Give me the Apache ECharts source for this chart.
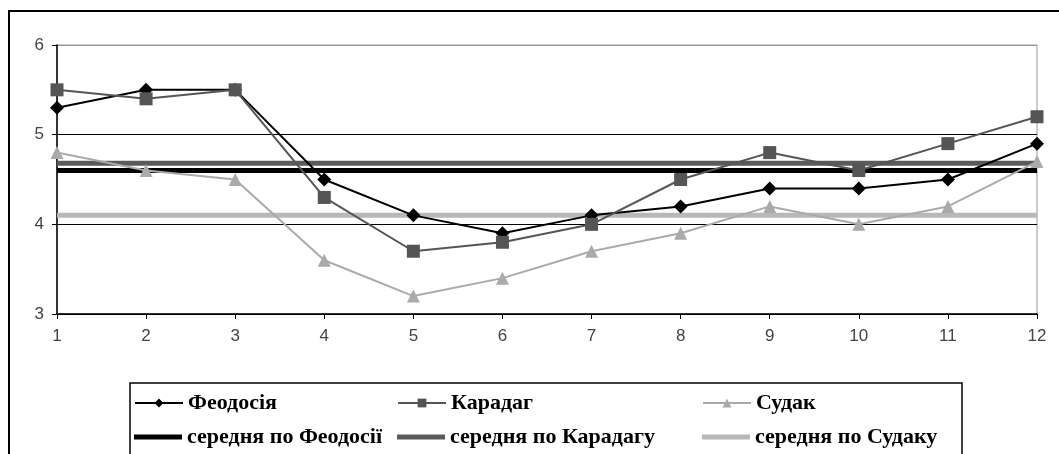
<!DOCTYPE html>
<html>
<head>
<meta charset="utf-8">
<style>
  html, body { margin: 0; padding: 0; background: #fff; }
  #chart { width: 1059px; height: 454px; filter: blur(0.4px); }
</style>
<script src="https://cdn.jsdelivr.net/npm/echarts@6/dist/echarts.min.js"></script>
</head>
<body>
<div id="chart"></div>
<script>
// Months 1..12
const months = ['1', '2', '3', '4', '5', '6', '7', '8', '9', '10', '11', '12'];

// Monthly values per station
const feodosia = [5.3, 5.5, 5.5, 4.5, 4.1, 3.9, 4.1, 4.2, 4.4, 4.4, 4.5, 4.9];
const karadag  = [5.5, 5.4, 5.5, 4.3, 3.7, 3.8, 4.0, 4.5, 4.8, 4.6, 4.9, 5.2];
const sudak    = [4.8, 4.6, 4.5, 3.6, 3.2, 3.4, 3.7, 3.9, 4.2, 4.0, 4.2, 4.7];

// Annual mean levels, drawn as flat lines
const avgFeodosia = [4.6, 4.6, 4.6, 4.6, 4.6, 4.6, 4.6, 4.6, 4.6, 4.6, 4.6, 4.6];
const avgKaradag  = [4.68, 4.68, 4.68, 4.68, 4.68, 4.68, 4.68, 4.68, 4.68, 4.68, 4.68, 4.68];
const avgSudak    = [4.1, 4.1, 4.1, 4.1, 4.1, 4.1, 4.1, 4.1, 4.1, 4.1, 4.1, 4.1];

const names = ['Феодосія', 'Карадаг', 'Судак',
               'середня по Феодосії', 'середня по Карадагу', 'середня по Судаку'];

const chart = echarts.init(document.getElementById('chart'), null, { renderer: 'canvas' });

const legendText = { fontFamily: '"Liberation Serif", "Times New Roman", serif', fontWeight: 'bold', fontSize: 22, color: '#000' };
function legendAt(name, left, top) {
  return { data: [name], left: left, top: top, itemWidth: 48, itemHeight: 11, padding: 0, textStyle: legendText, selectedMode: false };
}
// plain thick bar as legend key for the mean lines
function meanLegendAt(name, left, top) {
  return { data: [{ name: name, icon: 'rect' }], left: left, top: top, itemWidth: 48, itemHeight: 5, padding: 0,
           textStyle: legendText, selectedMode: false };
}

const meanLine = (name, data, color) => ({
  name: name, type: 'line', data: data, symbol: 'none', z: 1,
  lineStyle: { color: color, width: 5 }, itemStyle: { color: color }, silent: true
});
const stationLine = (name, data, color, symbol, size) => ({
  name: name, type: 'line', data: data, symbol: symbol, symbolSize: size, z: 3,
  lineStyle: { color: color, width: 2 }, itemStyle: { color: color }
});

chart.setOption({
  animation: false,
  backgroundColor: '#fff',
  grid: { left: 57, right: 22, top: 45, bottom: 140, show: true, borderColor: '#999', borderWidth: 1 },
  xAxis: {
    type: 'category', data: months, boundaryGap: false,
    axisLine: { lineStyle: { color: '#000', width: 1.5 } },
    axisTick: { show: true, length: 5, lineStyle: { color: '#000' } },
    axisLabel: { color: '#444', fontFamily: '"Liberation Sans", Arial, sans-serif', fontSize: 17, margin: 14 }
  },
  yAxis: {
    type: 'value', min: 3, max: 6, interval: 1,
    axisLine: { show: true, lineStyle: { color: '#000', width: 1.5 } },
    axisTick: { show: true, length: 5, lineStyle: { color: '#000' } },
    axisLabel: { color: '#444', fontFamily: '"Liberation Sans", Arial, sans-serif', fontSize: 17, margin: 13 },
    splitLine: { show: true, lineStyle: { color: ['#000', '#000', '#000', '#999'], width: 1 } }
  },
  legend: [
    legendAt(names[0], 134, 392),
    legendAt(names[1], 397, 392),
    legendAt(names[2], 702, 392),
    meanLegendAt(names[3], 134, 426),
    meanLegendAt(names[4], 397, 426),
    meanLegendAt(names[5], 702, 426)
  ],
  series: [
    meanLine(names[3], avgFeodosia, '#000'),
    meanLine(names[4], avgKaradag, '#5a5a5a'),
    meanLine(names[5], avgSudak, '#b8b8b8'),
    stationLine(names[0], feodosia, '#000', 'diamond', 14),
    stationLine(names[1], karadag, '#555', 'rect', 13),
    stationLine(names[2], sudak, '#aaa', 'triangle', 13)
  ],
  graphic: [
    { type: 'polyline', shape: { points: [[9, 460], [9, 11], [1060, 11]] }, style: { stroke: '#000', lineWidth: 2, fill: null } },
    { type: 'rect', shape: { x: 130, y: 383, width: 832, height: 80 }, style: { stroke: '#000', lineWidth: 1.5, fill: null } }
  ]
});
</script>
</body>
</html>
